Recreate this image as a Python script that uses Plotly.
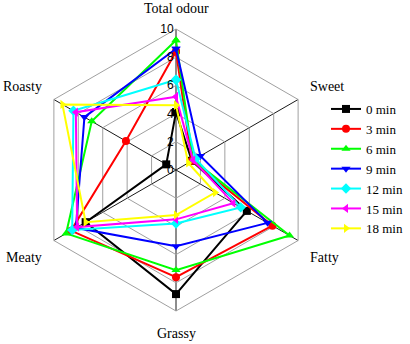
import plotly.graph_objects as go

categories = ["Total odour", "Sweet", "Fatty", "Grassy", "Meaty", "Roasty"]
series_names = ["0 min", "3 min", "6 min", "9 min", "12 min", "15 min", "18 min"]
v0 = [4.1, 1.3, 5.8, 8.8, 7.4, 0.8]
v3 = [8.4, 1.3, 7.9, 7.6, 8.6, 4.1]
v6 = [9.2, 1.4, 9.3, 7.1, 9.0, 6.9]
v9 = [8.6, 2.0, 7.5, 5.4, 8.2, 7.5]
v12 = [6.4, 1.6, 5.3, 3.8, 8.5, 8.4]
v15 = [5.2, 1.4, 4.7, 3.5, 8.1, 8.2]
v18 = [4.6, 1.0, 3.2, 3.2, 7.4, 9.3]
radial_ticks = [0, 2, 4, 6, 8, 10]

values = [v0, v3, v6, v9, v12, v15, v18]
colors = ["#000000", "#ff0000", "#00ff00", "#0000ff", "#00ffff", "#ff00ff", "#ffff00"]
symbols = ["square", "circle", "triangle-up", "triangle-down", "diamond", "triangle-left", "triangle-right"]

W, H = 410, 344
# label placement (pixel centres) for the category names
label_pos = [(176, 8), (327, 86), (324, 257), (176, 333), (24, 257), (22, 86)]

fig = go.Figure()
for name, vals, c, s in zip(series_names, values, colors, symbols):
    fig.add_trace(go.Scatterpolar(
        r=vals + vals[:1], theta=categories + categories[:1],
        mode="lines+markers", name=name,
        line=dict(color=c, width=2),
        marker=dict(color=c, symbol=s, size=8),
    ))

annotations = []
for cat, (px, py) in zip(categories, label_pos):
    annotations.append(dict(
        text=cat, x=px / W, y=1 - py / H,
        xref="paper", yref="paper",
        xanchor="center", yanchor="middle", showarrow=False,
        font=dict(family="Liberation Serif", size=14, color="black"),
    ))

cx, cy, rad = 176, 170, 141
fig.update_layout(
    width=W, height=H,
    margin=dict(l=0, r=0, t=0, b=0),
    paper_bgcolor="white",
    font=dict(family="Liberation Serif", size=14, color="black"),
    annotations=annotations,
    polar=dict(
        domain=dict(x=[(cx - rad) / W, (cx + rad) / W],
                    y=[1 - (cy + rad) / H, 1 - (cy - rad) / H]),
        bgcolor="white",
        gridshape="linear",
        angularaxis=dict(
            rotation=90, direction="clockwise",
            categoryorder="array", categoryarray=categories,
            showline=True, linecolor="#a0a0a0", linewidth=1,
            gridcolor="#1a1a1a", gridwidth=1,
            showticklabels=False, ticks="",
        ),
        radialaxis=dict(
            range=[0, 10], tickvals=radial_ticks,
            angle=90, side="counterclockwise", tickangle=90,
            showline=False, ticks="",
            gridcolor="#a0a0a0", gridwidth=1,
            tickfont=dict(family="Liberation Sans", size=12, color="black"),
        ),
    ),
    legend=dict(
        x=326 / W, y=1 - 94 / H, xanchor="left", yanchor="top",
        font=dict(family="Liberation Serif", size=13, color="black"),
        bgcolor="rgba(0,0,0,0)", borderwidth=0,
    ),
)

# remove the browser's default 8px body margin so the figure sits at the page origin
fig.write_html("out.html", config={"displayModeBar": False},
               post_script="document.body.style.margin='0';")
